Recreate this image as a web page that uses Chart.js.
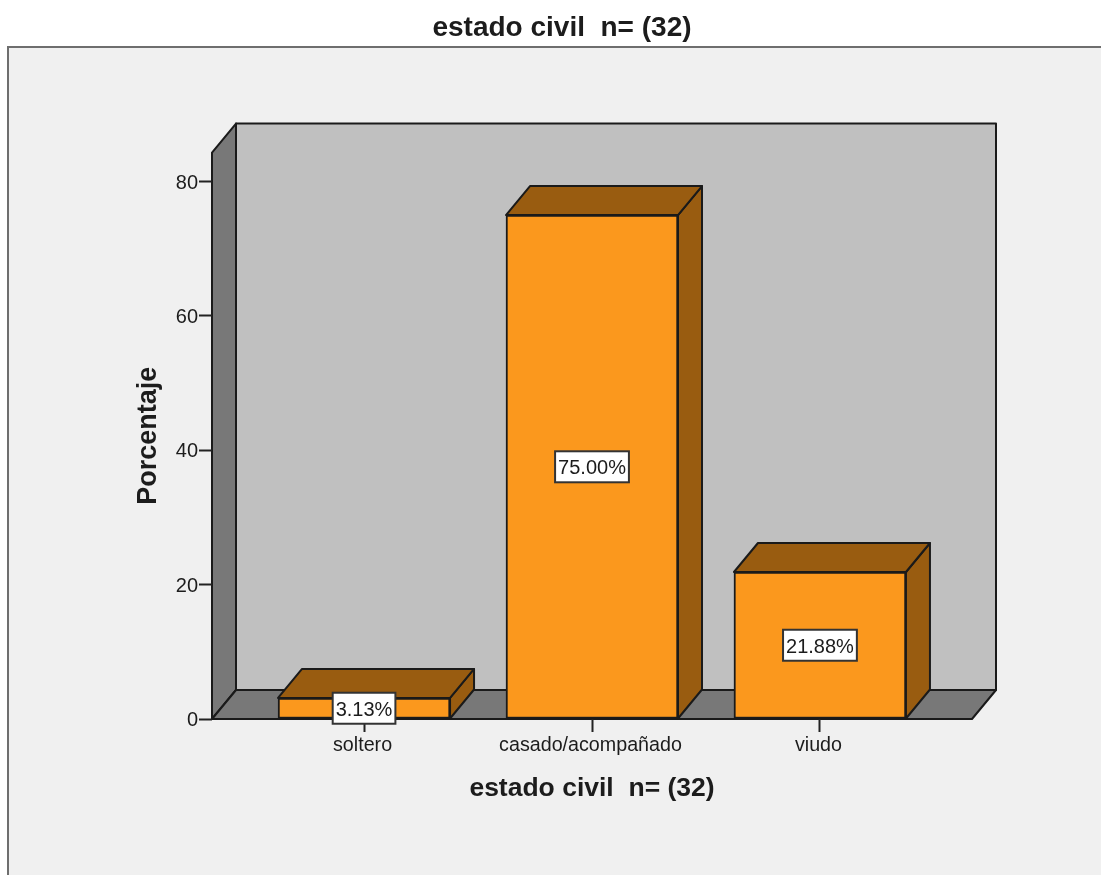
<!DOCTYPE html>
<html lang="es">
<head>
    <meta charset="UTF-8">
    <title>estado civil n= (32)</title>
    <script src="https://cdn.jsdelivr.net/npm/chart.js"></script>
    <style>
        html, body { margin: 0; padding: 0; background: #fff; }
        canvas { display: block; }
    </style>
</head>
<body>
    <canvas id="estadoChart" width="1101" height="875"></canvas>
    <script>
        const categorias = ['soltero', 'casado/acompañado', 'viudo'];
        const porcentajes = [3.13, 75.00, 21.88];
        const ticksY = [0, 20, 40, 60, 80];
        const titulo = 'estado civil  n= (32)';
        const tituloY = 'Porcentaje';

        const FUENTE = '"Liberation Sans", Arial, sans-serif';
        const TEXTO = '#1c1c1c';
        const LINEA = '#1a1a1a';
        // desplazamiento de la cara trasera
        const DX = 24, DY = 29;

        function poligono(ctx, pts, fill) {
            ctx.beginPath();
            pts.forEach((p, i) => i ? ctx.lineTo(p[0], p[1]) : ctx.moveTo(p[0], p[1]));
            ctx.closePath();
            ctx.fillStyle = fill;
            ctx.fill();
            ctx.lineWidth = 2;
            ctx.strokeStyle = LINEA;
            ctx.lineJoin = 'round';
            ctx.stroke();
        }

        // marco gris del fondo y paredes de la caja 3D
        const fondo3d = {
            id: 'fondo3d',
            beforeDraw(chart) {
                const { ctx, chartArea: a } = chart;
                ctx.save();
                ctx.fillStyle = '#f0f0f0';
                ctx.strokeStyle = '#6e6e6e';
                ctx.lineWidth = 2;
                ctx.fillRect(8, 47, 1101, 840);
                ctx.strokeRect(8, 47, 1101, 840);
                poligono(ctx, [[a.left + DX, a.top - DY], [a.right + DX, a.top - DY], [a.right + DX, a.bottom - DY], [a.left + DX, a.bottom - DY]], '#c0c0c0');
                poligono(ctx, [[a.left, a.top], [a.left + DX, a.top - DY], [a.left + DX, a.bottom - DY], [a.left, a.bottom]], '#787878');
                poligono(ctx, [[a.left, a.bottom], [a.left + DX, a.bottom - DY], [a.right + DX, a.bottom - DY], [a.right, a.bottom]], '#787878');
                ctx.restore();
            }
        };

        // caras superior y lateral de cada barra
        const barras3d = {
            id: 'barras3d',
            beforeDatasetsDraw(chart) {
                const { ctx } = chart;
                ctx.save();
                chart.getDatasetMeta(0).data.forEach(bar => {
                    const p = bar.getProps(['x', 'y', 'base', 'width'], true);
                    const l = p.x - p.width / 2, r = p.x + p.width / 2;
                    poligono(ctx, [[r, p.y], [r + DX, p.y - DY], [r + DX, p.base - DY], [r, p.base]], '#995c10');
                    poligono(ctx, [[l, p.y], [l + DX, p.y - DY], [r + DX, p.y - DY], [r, p.y]], '#995c10');
                });
                ctx.restore();
            }
        };

        // etiquetas de valor en caja blanca
        const etiquetas = {
            id: 'etiquetas',
            afterDatasetsDraw(chart) {
                const { ctx } = chart;
                ctx.save();
                ctx.font = '20px ' + FUENTE;
                ctx.textAlign = 'center';
                ctx.textBaseline = 'middle';
                chart.getDatasetMeta(0).data.forEach((bar, i) => {
                    const p = bar.getProps(['x', 'y', 'base'], true);
                    const txt = porcentajes[i].toFixed(2) + '%';
                    const cy = (p.y + p.base) / 2;
                    const w = ctx.measureText(txt).width + 6, h = 31;
                    ctx.fillStyle = '#fff';
                    ctx.fillRect(p.x - w / 2, cy - h / 2, w, h);
                    ctx.strokeStyle = '#333';
                    ctx.lineWidth = 2;
                    ctx.strokeRect(p.x - w / 2, cy - h / 2, w, h);
                    ctx.fillStyle = TEXTO;
                    ctx.fillText(txt, p.x, cy + 2);
                });
                ctx.restore();
            }
        };

        new Chart(document.getElementById('estadoChart'), {
            type: 'bar',
            data: {
                datasets: [{
                    data: porcentajes.map((v, i) => ({ x: i, y: v })),
                    backgroundColor: '#fb981d',
                    borderColor: LINEA,
                    borderWidth: 2,
                    borderSkipped: false,
                    barThickness: 172
                }]
            },
            options: {
                responsive: false,
                animation: false,
                layout: { padding: { left: 152, right: 129, top: 0, bottom: 0 } },
                plugins: {
                    legend: { display: false },
                    tooltip: { enabled: false },
                    title: {
                        display: true,
                        text: titulo,
                        color: TEXTO,
                        font: { family: FUENTE, size: 28, weight: 'bold' },
                        padding: { top: 11, bottom: 108 }
                    }
                },
                scales: {
                    x: {
                        type: 'linear',
                        offset: false,
                        min: -0.667,
                        max: 2.667,
                        afterBuildTicks: s => { s.ticks = categorias.map((_, i) => ({ value: i })); },
                        afterFit: s => { s.height = 156; },
                        border: { display: false },
                        grid: { offset: false, drawOnChartArea: false, tickLength: 13, tickColor: '#222', tickWidth: 2 },
                        ticks: {
                            autoSkip: false,
                            maxRotation: 0,
                            padding: 2,
                            labelOffset: -1.5,
                            color: TEXTO,
                            font: { family: FUENTE, size: 19.7 },
                            callback: v => categorias[v]
                        },
                        title: {
                            display: true,
                            text: titulo,
                            color: TEXTO,
                            font: { family: FUENTE, size: 26.5, weight: 'bold' },
                            padding: { top: 0, bottom: 70 }
                        }
                    },
                    y: {
                        min: 0,
                        max: 84.3,
                        afterBuildTicks: s => { s.ticks = ticksY.map(v => ({ value: v })); },
                        afterFit: s => { s.width = 60; },
                        border: { display: false },
                        grid: { drawOnChartArea: false, tickLength: 13, tickColor: '#222', tickWidth: 2 },
                        ticks: {
                            padding: 1,
                            labelOffset: 1.5,
                            color: TEXTO,
                            font: { family: FUENTE, size: 20 }
                        },
                        title: {
                            display: true,
                            text: tituloY,
                            color: TEXTO,
                            font: { family: FUENTE, size: 27, weight: 'bold' },
                            padding: { top: -20, bottom: 0 }
                        }
                    }
                }
            },
            plugins: [fondo3d, barras3d, etiquetas]
        });
    </script>
</body>
</html>
